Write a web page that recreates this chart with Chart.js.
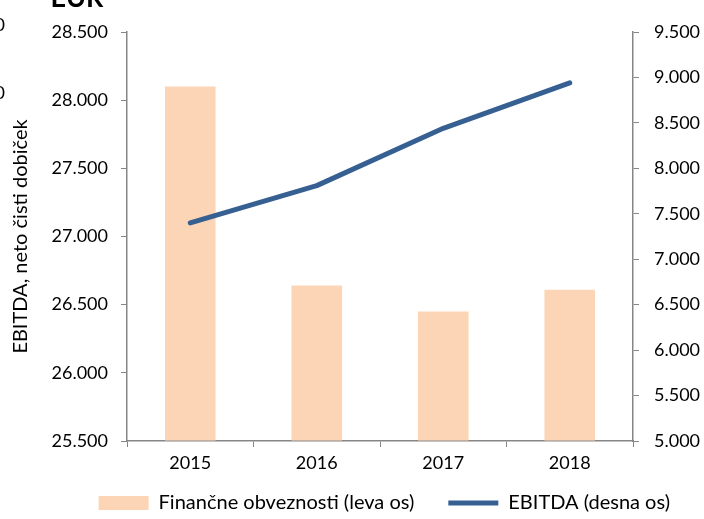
<!DOCTYPE html>
<html>
<head>
<meta charset="utf-8">
<script src="https://cdn.jsdelivr.net/npm/chart.js@4"></script>
<style>
  html, body { margin: 0; padding: 0; background: #fff; }
  #wrap { width: 704px; height: 519px; }
</style>
</head>
<body>
<div id="wrap"><canvas id="myChart"></canvas></div>
<script>
const years = ['2015', '2016', '2017', '2018'];
const financneObveznosti = [28100, 26640, 26450, 26610];
const ebitda = [7400, 7810, 8440, 8940];
const leftTitle = 'EBITDA, neto čisti dobiček';
const cutTitle = 'EUR';
const cutTicks = ['0', '0'];

function fmt(v) {
    return String(v).replace(/\B(?=(\d{3})+(?!\d))/g, '.');
}

const FONT = 'Lato';
Chart.defaults.font.family = FONT;
Chart.defaults.font.size = 18;
Chart.defaults.color = '#000';

// legend: fixed height in the layout, then moved up a bit so the row sits like in the picture
const legendFix = {
    id: 'legendFix',
    afterInit(chart) {
        const lg = chart.legend;
        const fit = lg.fit;
        lg.fit = function () {
            fit.call(lg);
            lg.height = 45;
        };
    },
    afterLayout(chart) {
        const lg = chart.legend;
        lg.top = 459;
        lg.bottom = chart.height;
        lg.height = lg.bottom - lg.top;
    }
};

// leftovers cut off at the top-left edge of the original image
const cutText = {
    id: 'cutText',
    afterDraw(chart) {
        const c = chart.ctx;
        c.save();
        c.fillStyle = '#000';
        c.font = 'bold 27px ' + FONT;
        c.textAlign = 'center';
        c.textBaseline = 'alphabetic';
        c.fillText(cutTitle, 77, 7);
        c.font = '18px ' + FONT;
        c.textAlign = 'right';
        c.textBaseline = 'middle';
        c.fillText(cutTicks[0], 5, 25);
        c.fillText(cutTicks[1], 5, 93);
        c.restore();
    }
};

const axisGray = '#868686';

try {
    var ctx = document.getElementById('myChart').getContext('2d');
    var myChart = new Chart(ctx, {
        type: 'bar',
        data: {
            labels: years,
            datasets: [{
                type: 'line',
                label: 'EBITDA (desna os)',
                data: ebitda,
                yAxisID: 'y1',
                borderColor: '#376092',
                backgroundColor: '#376092',
                borderWidth: 5,
                borderCapStyle: 'round',
                borderJoinStyle: 'round',
                pointRadius: 0,
                pointHoverRadius: 0,
                pointStyle: 'line',
                tension: 0,
                order: 0
            }, {
                label: 'Finančne obveznosti (leva os)',
                data: financneObveznosti,
                yAxisID: 'y',
                base: 25500,
                backgroundColor: '#FBD5B5',
                borderWidth: 0,
                pointStyle: 'rect',
                barPercentage: 0.4,
                categoryPercentage: 1,
                order: 1
            }]
        },
        options: {
            responsive: true,
            maintainAspectRatio: false,
            animation: false,
            layout: {
                padding: { top: 32, left: 0, right: 0, bottom: 0 }
            },
            plugins: {
                legend: {
                    position: 'bottom',
                    align: 'end',
                    reverse: true,
                    labels: {
                        usePointStyle: true,
                        pointStyleWidth: 50,
                        boxHeight: 14,
                        padding: 34,
                        color: '#000',
                        font: { size: 20 }
                    }
                },
                tooltip: { enabled: false },
                title: { display: false }
            },
            scales: {
                x: {
                    offset: true,
                    grid: {
                        display: true,
                        offset: true,
                        drawOnChartArea: false,
                        drawTicks: true,
                        tickLength: 6,
                        color: axisGray
                    },
                    border: { display: true, color: axisGray, width: 1.5 },
                    ticks: { padding: 5, color: '#000', font: { size: 18 } },
                    afterFit(s) { s.height = 33; }
                },
                y: {
                    position: 'left',
                    min: 25500,
                    max: 28500,
                    grid: {
                        drawOnChartArea: false,
                        drawTicks: true,
                        tickLength: 6,
                        color: axisGray
                    },
                    border: { display: true, color: axisGray, width: 1.5 },
                    ticks: {
                        stepSize: 500,
                        padding: 13,
                        color: '#000',
                        font: { size: 18 },
                        callback: v => fmt(v)
                    },
                    title: {
                        display: true,
                        text: leftTitle,
                        color: '#000',
                        font: { size: 20 },
                        padding: { top: 9, bottom: 0 }
                    },
                    afterFit(s) { s.width = 127; }
                },
                y1: {
                    position: 'right',
                    min: 5000,
                    max: 9500,
                    grid: {
                        drawOnChartArea: false,
                        drawTicks: true,
                        tickLength: 6,
                        color: axisGray
                    },
                    border: { display: true, color: axisGray, width: 1.5 },
                    ticks: {
                        stepSize: 500,
                        padding: 15,
                        color: '#000',
                        font: { size: 18 },
                        callback: v => fmt(v)
                    },
                    afterFit(s) { s.width = 71; }
                }
            }
        },
        plugins: [legendFix, cutText]
    });
} catch (error) {
    console.log(error);
}
</script>
</body>
</html>
